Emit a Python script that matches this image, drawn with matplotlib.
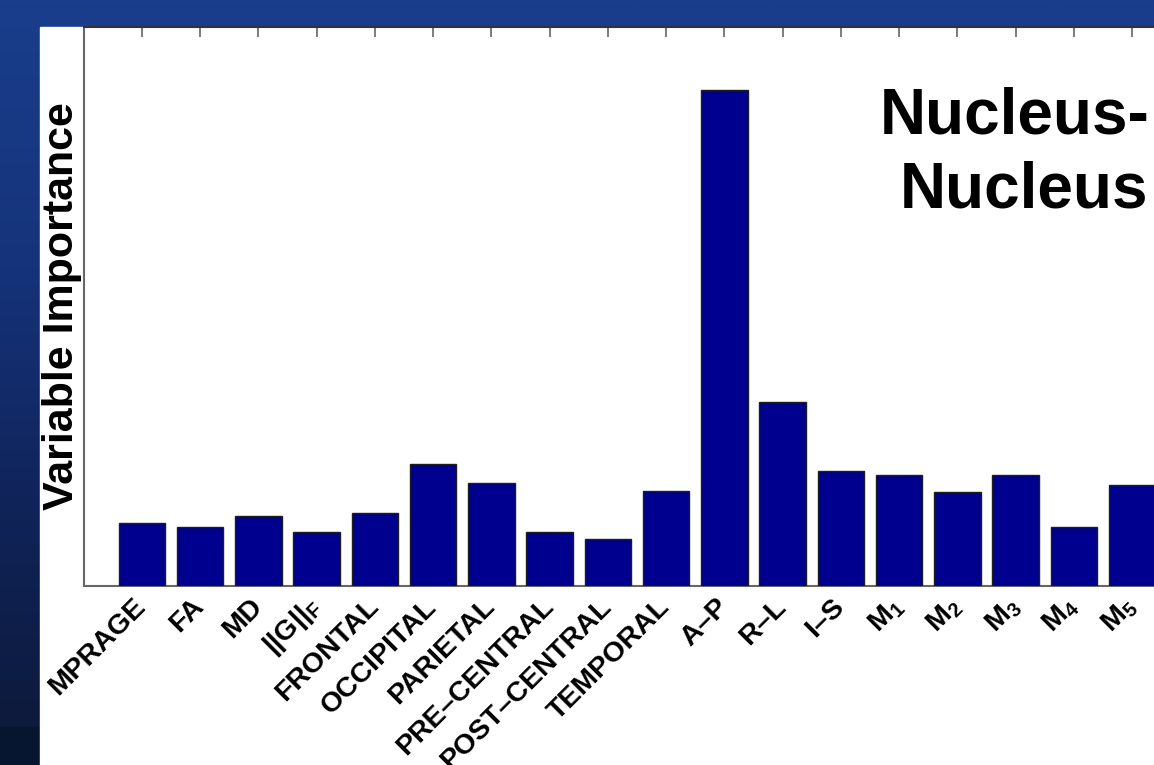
import numpy as np
import matplotlib
matplotlib.use("Agg")
import matplotlib.pyplot as plt
from matplotlib.patches import Rectangle
from matplotlib.colors import LinearSegmentedColormap

# Feature names and their importance scores
features = ["MPRAGE", "FA", "MD", r"$\mathbf{||G||}_{F}$", "FRONTAL", "OCCIPITAL",
            "PARIETAL", "PRE–CENTRAL", "POST–CENTRAL", "TEMPORAL", "A–P", "R–L",
            "I–S", r"$\mathbf{M}_{1}$", r"$\mathbf{M}_{2}$", r"$\mathbf{M}_{3}$",
            r"$\mathbf{M}_{4}$", r"$\mathbf{M}_{5}$"]
importance = [0.63, 0.59, 0.70, 0.54, 0.73, 1.22, 1.03, 0.54, 0.47, 0.95,
              4.96, 1.84, 1.15, 1.11, 0.94, 1.11, 0.59, 1.01]
y_max = 5.59

plt.rcParams["font.family"] = ["Liberation Sans", "DejaVu Sans"]
plt.rcParams["mathtext.fontset"] = "custom"
plt.rcParams["mathtext.rm"] = "Liberation Sans:bold"
plt.rcParams["mathtext.bf"] = "Liberation Sans:bold"
plt.rcParams["mathtext.it"] = "Liberation Sans:bold"

W, H = 1154, 765
fig = plt.figure(figsize=(W / 100, H / 100), dpi=100)

# Slide-style vertical gradient backdrop
bg = fig.add_axes([0, 0, 1, 1], zorder=-10)
bg.set_axis_off()
cmap = LinearSegmentedColormap.from_list(
    "slide", [(0.0, "#1a3e8c"), (0.35, "#15337a"), (0.65, "#10245a"),
              (0.95, "#0d1a3c"), (1.0, "#0d1a3c")])
grad = np.linspace(0, 1, 512).reshape(-1, 1)
bg.imshow(grad, aspect="auto", cmap=cmap, extent=[0, 1, 0, 1], origin="upper")
bg.add_patch(Rectangle((0, 0), 1, 1 - 727 / H, color="#061631"))
bg.add_patch(Rectangle((40 / W, 0), 1, 1 - 27 / H, color="white"))
bg.set_xlim(0, 1)
bg.set_ylim(0, 1)

# Bar chart axes
n = len(features)
step = 58.25
left_px = 141.8 - step
ax_w = (n + 1) * step
ax = fig.add_axes([left_px / W, 1 - 586 / H, ax_w / W, (586 - 27) / H])
x = np.arange(n)
ax.bar(x, importance, width=0.8, color="#00008f", edgecolor="#1e1e1e",
       linewidth=1.0, zorder=3)
ax.set_xlim(-1, n)
ax.set_ylim(0, y_max)
ax.set_yticks([])
ax.set_xticks(x)
ax.set_xticklabels(features, rotation=45, ha="right", va="center",
                   rotation_mode="anchor", fontsize=20.5, fontweight="bold")
ax.tick_params(axis="x", bottom=False, top=True, labelbottom=True,
               direction="in", length=7, width=1.2, color="#666666", pad=12)
for s in ax.spines.values():
    s.set_color("#666666")
    s.set_linewidth(1.5)
ax.spines["top"].set_color("#333333")

fig.text(62 / W, 1 - 306 / H, "Variable Importance", rotation=90,
         ha="center", va="center", fontsize=31, fontweight="bold")

fig.text(880 / W, 1 - 133 / H, "Nucleus-", ha="left", va="baseline",
         fontsize=46, fontweight="bold")
fig.text(900 / W, 1 - 208 / H, "Nucleus", ha="left", va="baseline",
         fontsize=46, fontweight="bold")

fig.savefig("out.png", dpi=100)
